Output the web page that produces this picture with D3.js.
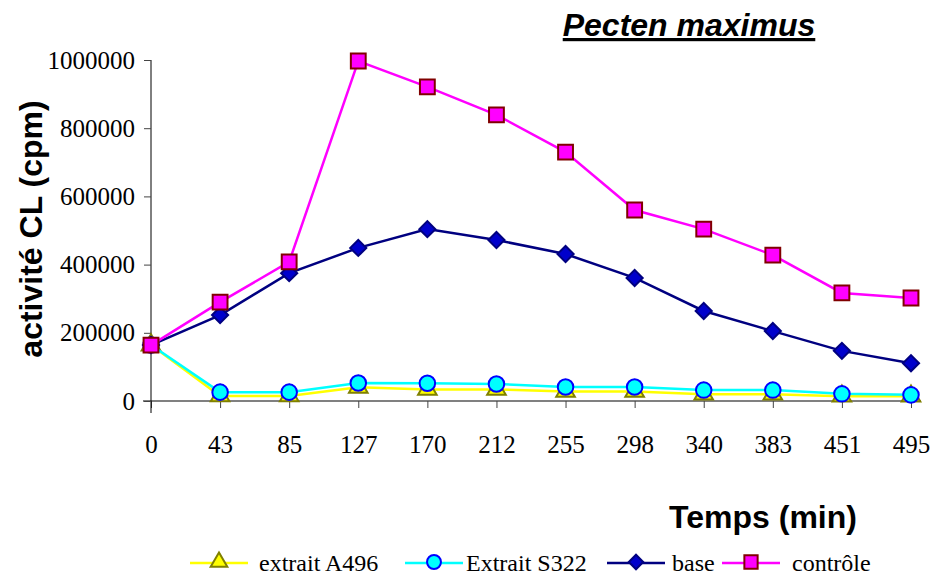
<!DOCTYPE html>
<html>
<head>
<meta charset="utf-8">
<script src="https://cdn.jsdelivr.net/npm/d3@7"></script>
<style>
  body { margin: 0; background: #fff; }
  .tick text { font-family: "Liberation Serif", "Times New Roman", serif; font-size: 25px; fill: #000; }
</style>
</head>
<body>
<svg id="chart" width="933" height="578"></svg>
<script>
// Time points (min)
const temps = ['0', '43', '85', '127', '170', '212', '255', '298', '340', '383', '451', '495'];

// Series values (cpm)
const extraitA496 = [164000, 15000, 15000, 40000, 34000, 34000, 28000, 28000, 20000, 20000, 14000, 14000];
const extraitS322 = [164000, 26000, 26000, 53000, 52000, 50000, 41000, 41000, 32000, 32000, 21000, 18000];
const base = [164000, 252000, 375000, 449000, 504000, 472000, 431000, 361000, 264000, 205000, 147000, 111000];
const controle = [164000, 290000, 408000, 997000, 921000, 839000, 730000, 560000, 504000, 428000, 317000, 302000];

const yTicks = [0, 200000, 400000, 600000, 800000, 1000000];

const series = [
  { name: 'extrait A496', values: extraitA496, line: '#ffff00', fill: '#ffff00', stroke: '#808000', symbol: 'triangle' },
  { name: 'Extrait S322', values: extraitS322, line: '#00ffff', fill: '#00ffff', stroke: '#0000ff', symbol: 'circle' },
  { name: 'base', values: base, line: '#000080', fill: '#0000cc', stroke: '#000080', symbol: 'diamond' },
  { name: 'contrôle', values: controle, line: '#ff00ff', fill: '#ff00ff', stroke: '#800000', symbol: 'square' }
];

const svg = d3.select('#chart');
const plot = { left: 151, right: 911, top: 60, bottom: 401 };

const x = d3.scalePoint().domain(temps).range([plot.left, plot.right]);
const y = d3.scaleLinear().domain([0, 1000000]).range([plot.bottom, plot.top]);

// x axis line (gray) spanning plot
svg.append('line')
  .attr('x1', plot.left - 8).attr('x2', 921)
  .attr('y1', plot.bottom).attr('y2', plot.bottom)
  .attr('stroke', '#808080').attr('stroke-width', 2);

const xAxis = svg.append('g')
  .attr('transform', `translate(0,${plot.bottom})`)
  .call(d3.axisBottom(x).tickSize(7).tickPadding(27).tickSizeOuter(0));
xAxis.select('.domain').remove();
xAxis.selectAll('.tick line').attr('stroke', '#444');

const yAxis = svg.append('g')
  .attr('transform', `translate(${plot.left},0)`)
  .call(d3.axisLeft(y).tickValues(yTicks).tickFormat(d3.format('d')).tickSize(7).tickPadding(9).tickSizeOuter(0));
yAxis.select('.domain').attr('stroke', '#000').attr('d', `M0,${plot.top}V${plot.bottom + 12}`);
yAxis.selectAll('.tick line').attr('stroke', '#444');

// Lines and markers
const symbolSize = { triangle: 150, circle: 190, diamond: 130, square: 220 };
const symbolType = { triangle: d3.symbolTriangle, circle: d3.symbolCircle, diamond: d3.symbolSquare, square: d3.symbolSquare };
const symbolRotate = { triangle: 0, circle: 0, diamond: 45, square: 0 };

const lineGen = d3.line()
  .x((d, i) => x(temps[i]))
  .y(d => y(d));

series.forEach(s => {
  const g = svg.append('g');
  g.append('path')
    .datum(s.values)
    .attr('d', lineGen)
    .attr('fill', 'none')
    .attr('stroke', s.line)
    .attr('stroke-width', 2.5);
  g.selectAll('path.mark')
    .data(s.values)
    .enter()
    .append('path')
      .attr('class', 'mark')
      .attr('transform', (d, i) => `translate(${x(temps[i])},${y(d)}) rotate(${symbolRotate[s.symbol]})`)
      .attr('d', d3.symbol().type(symbolType[s.symbol]).size(symbolSize[s.symbol]))
      .attr('fill', s.fill)
      .attr('stroke', s.stroke)
      .attr('stroke-width', 2);
});

// Title
svg.append('text')
  .attr('x', 689).attr('y', 36)
  .attr('text-anchor', 'middle')
  .attr('font-family', 'Liberation Sans, Arial, sans-serif')
  .attr('font-size', 32).attr('font-weight', 'bold').attr('font-style', 'italic')
  .attr('text-decoration', 'underline')
  .text('Pecten maximus');

// Axis titles
svg.append('text')
  .attr('transform', 'translate(42,229) rotate(-90)')
  .attr('text-anchor', 'middle')
  .attr('font-family', 'Liberation Sans, Arial, sans-serif')
  .attr('font-size', 32).attr('font-weight', 'bold')
  .text('activité CL (cpm)');

svg.append('text')
  .attr('x', 763).attr('y', 528)
  .attr('text-anchor', 'middle')
  .attr('font-family', 'Liberation Sans, Arial, sans-serif')
  .attr('font-size', 32).attr('font-weight', 'bold')
  .text('Temps (min)');

// Legend
const legendItems = [
  { s: series[0], x: 190, tx: 259 },
  { s: series[1], x: 405, tx: 466 },
  { s: series[2], x: 607, tx: 672 },
  { s: series[3], x: 722, tx: 792 }
];
const legend = svg.append('g');
legendItems.forEach(it => {
  const cy = 563;
  legend.append('line')
    .attr('x1', it.x).attr('x2', it.x + 58)
    .attr('y1', cy).attr('y2', cy)
    .attr('stroke', it.s.line).attr('stroke-width', 2.5);
  legend.append('path')
    .attr('transform', `translate(${it.x + 29},${cy - 1}) rotate(${symbolRotate[it.s.symbol]})`)
    .attr('d', d3.symbol().type(symbolType[it.s.symbol]).size(symbolSize[it.s.symbol] * 0.8))
    .attr('fill', it.s.fill).attr('stroke', it.s.stroke).attr('stroke-width', 2);
  legend.append('text')
    .attr('x', it.tx).attr('y', 571)
    .attr('font-family', 'Liberation Serif, Times New Roman, serif')
    .attr('font-size', 24)
    .text(it.s.name);
});
</script>
</body>
</html>
